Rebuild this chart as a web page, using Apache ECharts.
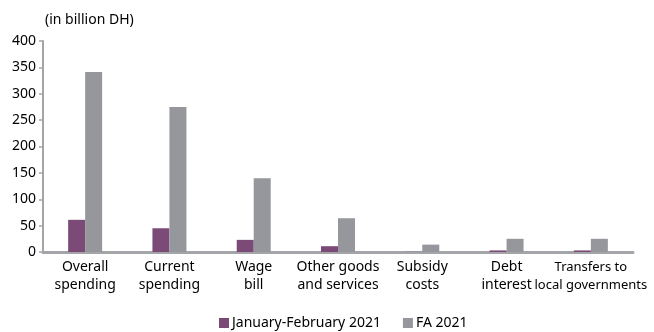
<!DOCTYPE html>
<html>
<head>
<meta charset="utf-8">
<script src="https://cdn.jsdelivr.net/npm/echarts@6/dist/echarts.min.js"></script>
<style>
  html, body { margin: 0; padding: 0; background: #ffffff; }
  #chart { width: 654px; height: 332px; }
</style>
</head>
<body>
<div id="chart"></div>
<script>
// Government spending, in billion DH
const categories = [
  'Overall\nspending',
  'Current\nspending',
  'Wage\nbill',
  'Other goods\nand services',
  'Subsidy\ncosts',
  'Debt\ninterest',
  'Transfers to\nlocal governments'
];
const janFeb2021 = [61, 45, 23, 11, 0.3, 3, 3];
const fa2021 = [341, 275, 140, 64, 14, 25, 25];
const yTicks = { min: 0, max: 400, interval: 50 };
const seriesNames = ['January-February 2021', 'FA 2021'];
const unitLabel = '(in billion DH)';

const FONT = 'Noto Sans';
const PURPLE = '#7b4a77';
const GREY = '#95979c';
const AXIS = '#a3a5a8';

const chart = echarts.init(document.getElementById('chart'), null, { renderer: 'canvas' });
chart.setOption({
  animation: false,
  backgroundColor: '#ffffff',
  textStyle: { fontFamily: FONT, color: '#000' },
  grid: { left: 43, right: 21, top: 41, bottom: 80, containLabel: false },
  legend: {
    data: seriesNames,
    bottom: -3,
    left: 214,
    itemWidth: 10,
    itemHeight: 10,
    itemGap: 22,
    icon: 'rect',
    textStyle: { fontFamily: FONT, fontSize: 14, color: '#000', padding: [0, 0, 0, -2] }
  },
  xAxis: {
    type: 'category',
    data: categories,
    axisLine: { lineStyle: { color: AXIS, width: 3 } },
    axisTick: { show: false },
    axisLabel: {
      interval: 0,
      margin: 6,
      fontFamily: FONT,
      fontSize: 14,
      lineHeight: 18,
      color: '#000',
      formatter: function (v, i) {
        return i === categories.length - 1 ? '{s|' + v.split('\n').join('}\n{s|') + '}' : v;
      },
      rich: { s: { fontSize: 13, lineHeight: 18, fontFamily: FONT, color: '#000' } }
    }
  },
  yAxis: {
    type: 'value',
    min: yTicks.min,
    max: yTicks.max,
    interval: yTicks.interval,
    name: unitLabel,
    nameLocation: 'end',
    nameGap: 14,
    nameTextStyle: { fontFamily: FONT, fontSize: 14, color: '#000', align: 'left', padding: [0, 0, 0, 2] },
    axisLine: { show: true, lineStyle: { color: AXIS, width: 2 } },
    axisTick: { show: true, length: 4, lineStyle: { color: AXIS, width: 1.5 } },
    axisLabel: { margin: 7, fontFamily: FONT, fontSize: 14, color: '#000' },
    splitLine: { show: false }
  },
  series: [
    {
      name: seriesNames[0],
      type: 'bar',
      data: janFeb2021,
      barWidth: 17,
      barGap: '0%',
      itemStyle: { color: PURPLE }
    },
    {
      name: seriesNames[1],
      type: 'bar',
      data: fa2021,
      barWidth: 17,
      barGap: '0%',
      itemStyle: { color: GREY }
    }
  ]
});
</script>
</body>
</html>
